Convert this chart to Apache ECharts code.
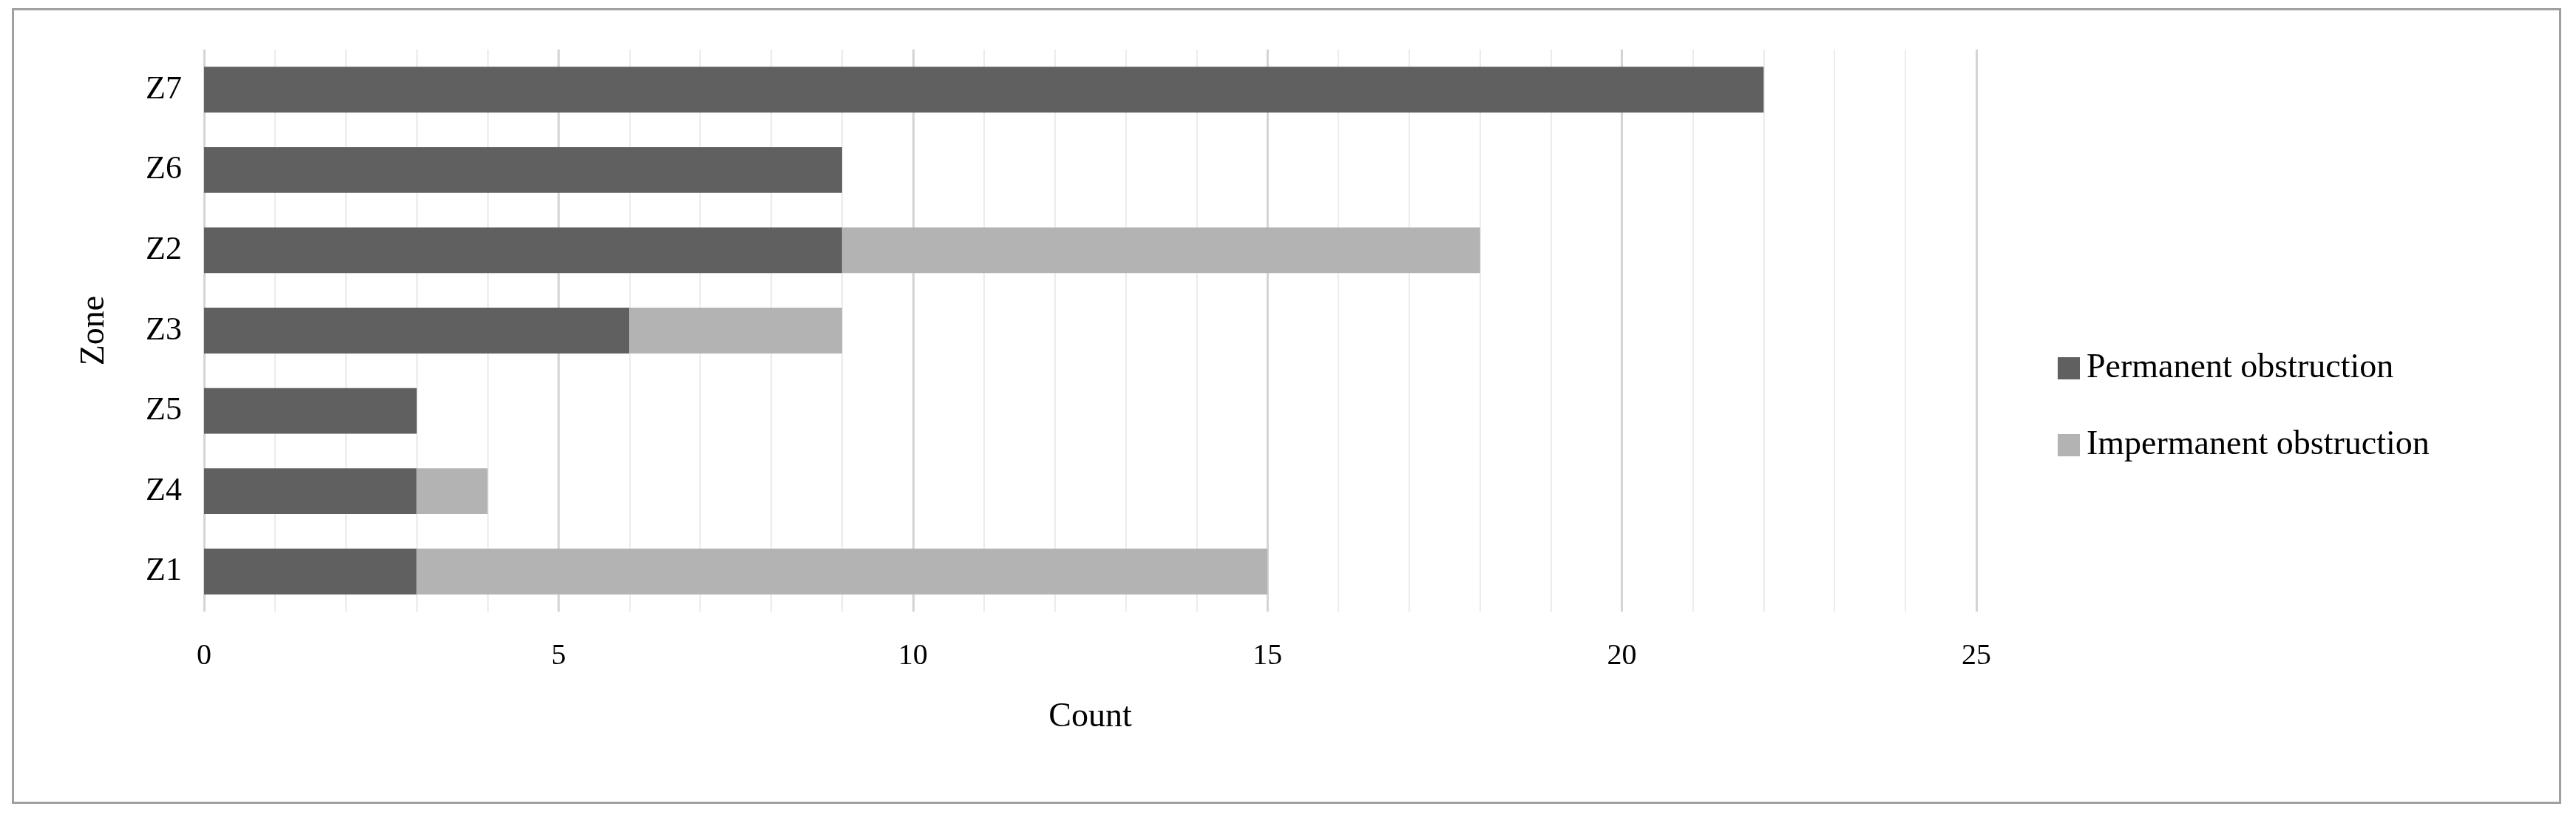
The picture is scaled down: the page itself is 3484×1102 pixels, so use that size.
<!DOCTYPE html>
<html>
<head>
<meta charset="utf-8">
<script src="https://cdn.jsdelivr.net/npm/echarts@6/dist/echarts.min.js"></script>
<style>
  html, body { margin: 0; padding: 0; background: #fff; }
  #frame { position: absolute; left: 16px; top: 11px; width: 3448px; height: 1076px; border: 3px solid #a0a0a0; box-sizing: border-box; }
  #chart { position: absolute; left: 0; top: 0; width: 3484px; height: 1102px; }
</style>
</head>
<body>
<div id="frame"></div>
<div id="chart"></div>
<script>
const zones = ['Z1', 'Z4', 'Z5', 'Z3', 'Z2', 'Z6', 'Z7'];
const permanent = [3, 3, 3, 6, 9, 9, 22];
const impermanent = [12, 1, 0, 3, 9, 0, 0];
const xTicks = [0, 5, 10, 15, 20, 25];

const chart = echarts.init(document.getElementById('chart'));
const font = '"Liberation Serif", "DejaVu Serif", serif';

chart.setOption({
    animation: false,
    textStyle: { fontFamily: font, color: '#000' },
    grid: { left: 276, right: 811, top: 67, bottom: 275 },
    legend: {
        orient: 'vertical',
        left: 2778,
        top: 470,
        itemWidth: 30,
        itemHeight: 30,
        itemGap: 58,
        icon: 'rect',
        textStyle: { fontFamily: font, fontSize: 46, color: '#000', padding: [0, 0, 0, 4] }
    },
    xAxis: {
        type: 'value',
        min: xTicks[0],
        max: xTicks[xTicks.length - 1],
        interval: 5,
        name: 'Count',
        nameLocation: 'middle',
        nameGap: 120,
        nameTextStyle: { fontFamily: font, fontSize: 46, color: '#000' },
        axisLine: { show: false },
        axisTick: { show: false },
        axisLabel: { fontFamily: font, fontSize: 40, color: '#000', margin: 40 },
        splitLine: { lineStyle: { color: '#d4d4d4', width: 3 } },
        minorTick: { show: false, splitNumber: 5 },
        minorSplitLine: { show: true, lineStyle: { color: '#ececec', width: 2 } }
    },
    yAxis: {
        type: 'category',
        data: zones,
        name: 'Zone',
        nameLocation: 'middle',
        nameGap: 125,
        nameTextStyle: { fontFamily: font, fontSize: 46, color: '#000' },
        axisLine: { show: false },
        axisTick: { show: false },
        axisLabel: { fontFamily: font, fontSize: 44, color: '#000', margin: 30 }
    },
    series: [
        {
            name: 'Permanent obstruction',
            type: 'bar',
            stack: 'total',
            data: permanent,
            barWidth: '57%',
            itemStyle: { color: '#606060' }
        },
        {
            name: 'Impermanent obstruction',
            type: 'bar',
            stack: 'total',
            data: impermanent,
            barWidth: '57%',
            itemStyle: { color: '#b3b3b3' }
        }
    ]
});
</script>
</body>
</html>
